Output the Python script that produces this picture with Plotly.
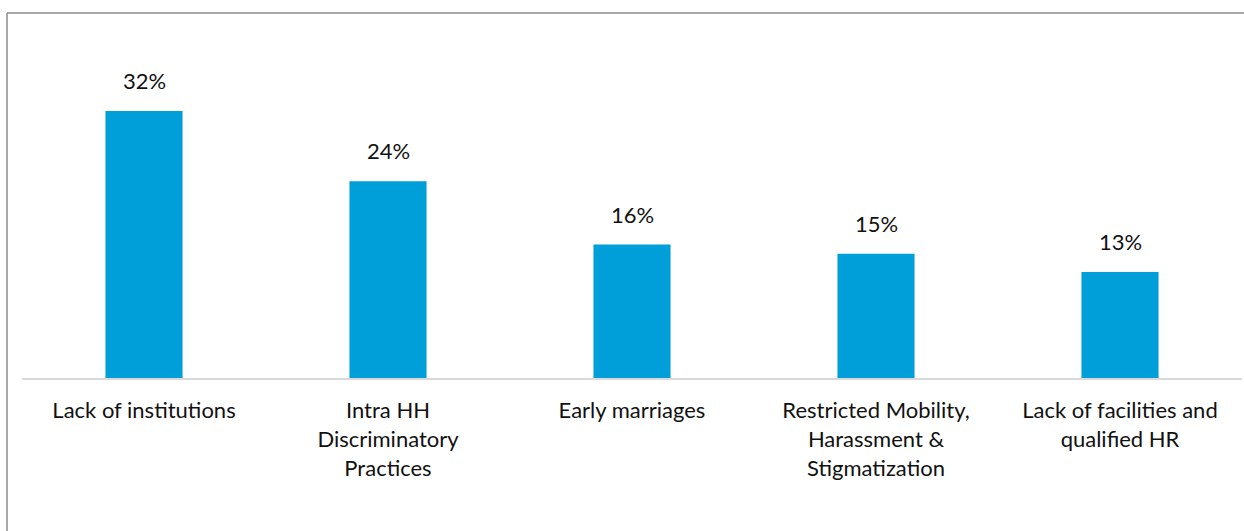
import plotly.graph_objects as go

categories = [
    "Lack of institutions",
    "Intra HH<br>Discriminatory<br>Practices",
    "Early marriages",
    "Restricted Mobility,<br>Harassment &<br>Stigmatization",
    "Lack of facilities and<br>qualified HR",
]
values = [32.0, 23.6, 16.0, 14.9, 12.7]
value_labels = ["32%", "24%", "16%", "15%", "13%"]

W, H = 1244, 531
ML, MR, MT, MB = 22, 2, 78, 153
PW = W - ML - MR
PH = H - MT - MB

BAR = "#009FDA"
FONT = "Lato"
FS = 22

fig = go.Figure()
fig.add_trace(go.Bar(
    x=categories, y=values, marker=dict(color=BAR, line=dict(width=0)),
    width=0.316, hoverinfo="skip",
))

for c, v, t in zip(categories, values, value_labels):
    fig.add_annotation(x=c, y=v, text=t, showarrow=False, yanchor="bottom",
                       yshift=15, font=dict(family=FONT, size=FS, color="#111111"))

def px_to_paper_x(px):
    return (px - ML) / PW

def px_to_paper_y(py):
    return (H - MB - py) / PH

# outer frame (top and left edges visible)
fig.add_shape(type="line", xref="paper", yref="paper",
              x0=px_to_paper_x(7), x1=px_to_paper_x(1246),
              y0=px_to_paper_y(13), y1=px_to_paper_y(13),
              line=dict(color="#8c8c8c", width=1.5))
fig.add_shape(type="line", xref="paper", yref="paper",
              x0=px_to_paper_x(7), x1=px_to_paper_x(7),
              y0=px_to_paper_y(13), y1=px_to_paper_y(540),
              line=dict(color="#8c8c8c", width=1.5))

fig.update_layout(
    width=W, height=H,
    margin=dict(l=ML, r=MR, t=MT, b=MB, autoexpand=False),
    paper_bgcolor="white", plot_bgcolor="white",
    showlegend=False,
    font=dict(family=FONT, size=FS, color="#111111"),
    xaxis=dict(showline=True, linecolor="#d9d9d9", linewidth=2,
               ticks="", showgrid=False, tickfont=dict(family=FONT, size=FS, color="#111111"),
               ticklabelstandoff=12, fixedrange=True),
    yaxis=dict(range=[0, PH / 8.34], visible=False, showgrid=False, zeroline=False,
               fixedrange=True),
)

fig.write_html("out.html", config={"displayModeBar": False},
               post_script="document.body.style.margin='0px';document.body.style.overflow='hidden';")
